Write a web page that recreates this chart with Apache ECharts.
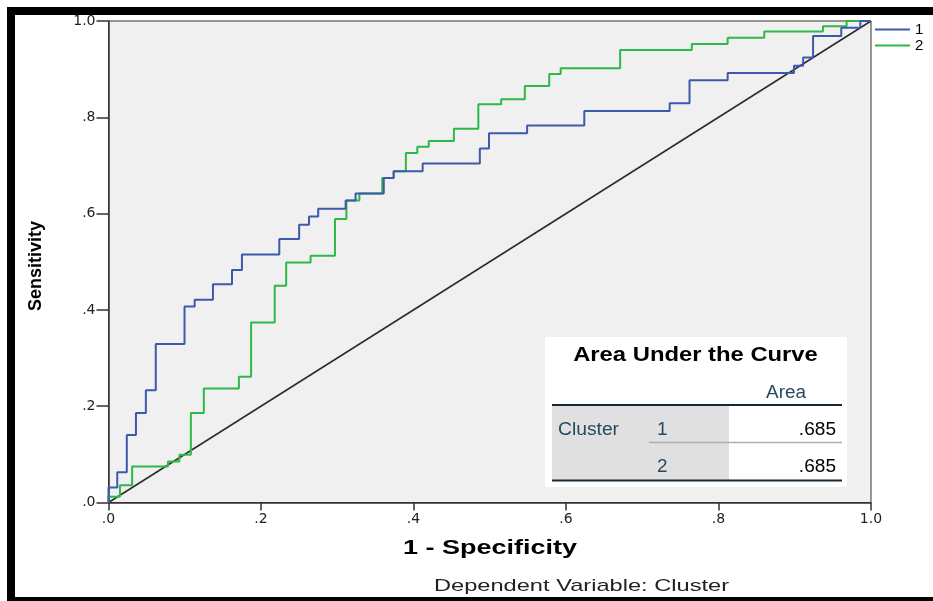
<!DOCTYPE html>
<html>
<head>
<meta charset="utf-8">
<script src="https://cdn.jsdelivr.net/npm/echarts@6/dist/echarts.min.js"></script>
<style>
html,body{margin:0;padding:0;background:#fff;}
#chart{width:933px;height:601px;}
</style>
</head>
<body>
<div id="chart"></div>
<script>
// ---- data ----
const xTickLabels = ['.0', '.2', '.4', '.6', '.8', '1.0'];
const yTickLabels = ['.0', '.2', '.4', '.6', '.8', '1.0'];
const seriesNames = ['1', '2'];

const cluster1Fpr = [0, 0, 0.0115, 0.0115, 0.024, 0.024, 0.036, 0.036, 0.049, 0.049, 0.062, 0.062, 0.0997, 0.0997, 0.113, 0.113, 0.137, 0.137, 0.162, 0.162, 0.175, 0.175, 0.224, 0.224, 0.25, 0.25, 0.263, 0.263, 0.275, 0.275, 0.311, 0.311, 0.324, 0.324, 0.361, 0.361, 0.374, 0.374, 0.412, 0.412, 0.487, 0.487, 0.499, 0.499, 0.549, 0.549, 0.624, 0.624, 0.736, 0.736, 0.762, 0.762, 0.812, 0.812, 0.899, 0.899, 0.911, 0.911, 0.924, 0.924, 0.961, 0.961, 0.986, 0.986, 1];
const cluster1Tpr = [0, 0.031, 0.031, 0.063, 0.063, 0.14, 0.14, 0.186, 0.186, 0.233, 0.233, 0.329, 0.329, 0.407, 0.407, 0.421, 0.421, 0.4535, 0.4535, 0.483, 0.483, 0.515, 0.515, 0.547, 0.547, 0.577, 0.577, 0.594, 0.594, 0.61, 0.61, 0.627, 0.627, 0.642, 0.642, 0.674, 0.674, 0.688, 0.688, 0.704, 0.704, 0.735, 0.735, 0.767, 0.767, 0.783, 0.783, 0.813, 0.813, 0.829, 0.829, 0.877, 0.877, 0.892, 0.892, 0.907, 0.907, 0.924, 0.924, 0.969, 0.969, 0.986, 0.986, 1, 1];

const cluster2Fpr = [0, 0, 0.015, 0.015, 0.031, 0.031, 0.078, 0.078, 0.093, 0.093, 0.108, 0.108, 0.125, 0.125, 0.171, 0.171, 0.187, 0.187, 0.218, 0.218, 0.233, 0.233, 0.265, 0.265, 0.297, 0.297, 0.312, 0.312, 0.329, 0.329, 0.359, 0.359, 0.374, 0.374, 0.39, 0.39, 0.405, 0.405, 0.42, 0.42, 0.453, 0.453, 0.485, 0.485, 0.515, 0.515, 0.546, 0.546, 0.578, 0.578, 0.593, 0.593, 0.671, 0.671, 0.765, 0.765, 0.812, 0.812, 0.86, 0.86, 0.937, 0.937, 0.968, 0.968, 1];
const cluster2Tpr = [0, 0.012, 0.012, 0.036, 0.036, 0.075, 0.075, 0.085, 0.085, 0.099, 0.099, 0.186, 0.186, 0.237, 0.237, 0.261, 0.261, 0.374, 0.374, 0.45, 0.45, 0.4986, 0.4986, 0.5125, 0.5125, 0.589, 0.589, 0.627, 0.627, 0.642, 0.642, 0.674, 0.674, 0.688, 0.688, 0.726, 0.726, 0.739, 0.739, 0.751, 0.751, 0.776, 0.776, 0.827, 0.827, 0.8375, 0.8375, 0.865, 0.865, 0.89, 0.89, 0.902, 0.902, 0.94, 0.94, 0.952, 0.952, 0.965, 0.965, 0.978, 0.978, 0.989, 0.989, 1, 1];

const refLineX = [0, 1];
const refLineY = [0, 1];

const aucTitle = 'Area Under the Curve';
const aucHeader = 'Area';
const aucVariable = 'Cluster';
const aucGroups = ['1', '2'];
const aucValues = ['.685', '.685'];

// ---- chart ----
const FONT = '"Liberation Sans", Arial, sans-serif';
const pairs = (xs, ys) => xs.map((x, i) => [x, ys[i]]);

function txt(x, y, text, font, fill, align, scaleX, extra) {
  return Object.assign({
    type: 'text', x: x, y: y, z: 100, scaleX: scaleX || 1, silent: true,
    style: { text: text, font: font, fill: fill, align: align, verticalAlign: 'middle',
             textAlign: align, textVerticalAlign: 'middle' }
  }, extra || {});
}
function hline(x1, x2, y, color, w) {
  return { type: 'line', z: 100, silent: true, shape: { x1: x1, y1: y, x2: x2, y2: y },
           style: { stroke: color, lineWidth: w } };
}

const chart = echarts.init(document.getElementById('chart'), null, { renderer: 'canvas' });
const option = {
  animation: false,
  backgroundColor: '#ffffff',
  grid: {
    left: 108.5, right: 62, top: 21, bottom: 98.5,
    show: true, backgroundColor: '#f0f0f0', borderColor: '#333', borderWidth: 1
  },
  legend: {
    orient: 'vertical', left: 875, top: 22, padding: 0, itemWidth: 35, itemHeight: 2, itemGap: 1,
    icon: 'rect',
    textStyle: { fontSize: 15, lineHeight: 14, color: '#000', fontFamily: FONT, padding: [0, 0, 0, 0] },
    data: seriesNames
  },
  xAxis: {
    type: 'value', min: 0, max: 1, interval: 0.2,
    axisLine: { show: true, lineStyle: { color: '#333', width: 1.5 } },
    axisTick: { show: true, length: 8, lineStyle: { color: '#333', width: 1.5 } },
    axisLabel: {
      margin: 10, fontSize: 14, color: '#222', fontFamily: '"DejaVu Sans", sans-serif',
      showMaxLabel: true, showMinLabel: true,
      formatter: v => xTickLabels[Math.round(v / 0.2)]
    },
    splitLine: { show: false }
  },
  yAxis: {
    type: 'value', min: 0, max: 1, interval: 0.2,
    axisLine: { show: true, lineStyle: { color: '#333', width: 1.5 } },
    axisTick: { show: true, length: 12, lineStyle: { color: '#333', width: 1.5 } },
    axisLabel: {
      margin: 13, fontSize: 14, color: '#222', fontFamily: '"DejaVu Sans", sans-serif',
      showMaxLabel: true, showMinLabel: true,
      formatter: v => yTickLabels[Math.round(v / 0.2)]
    },
    splitLine: { show: false }
  },
  series: [
    {
      name: 'ref', type: 'line', data: pairs(refLineX, refLineY), showSymbol: false, silent: true,
      lineStyle: { color: '#2a2a2a', width: 1.5 }, z: 1
    },
    {
      name: seriesNames[0], type: 'line', data: pairs(cluster1Fpr, cluster1Tpr), showSymbol: false,
      color: '#3e58ac', lineStyle: { color: '#3e58ac', width: 2 }, z: 3
    },
    {
      name: seriesNames[1], type: 'line', data: pairs(cluster2Fpr, cluster2Tpr), showSymbol: false,
      color: '#2eb848', lineStyle: { color: '#2eb848', width: 2 }, z: 2
    }
  ],
  graphic: [
    // black frame
    { type: 'rect', z: 100, silent: true, shape: { x: 7, y: 7, width: 926, height: 8 }, style: { fill: '#000' } },
    { type: 'rect', z: 100, silent: true, shape: { x: 7, y: 7, width: 8, height: 594 }, style: { fill: '#000' } },
    { type: 'rect', z: 100, silent: true, shape: { x: 7, y: 597, width: 926, height: 4 }, style: { fill: '#000' } },
    // axis titles
    txt(36, 266, 'Sensitivity', 'bold 18px ' + FONT, '#000', 'center', 1, { rotation: Math.PI / 2 }),
    txt(490, 548, '1 - Specificity', 'bold 20px ' + FONT, '#000', 'center', 1.35),
    txt(581.5, 586, 'Dependent Variable: Cluster', '17px ' + FONT, '#222', 'center', 1.39),
    // AUC table
    { type: 'rect', z: 99, silent: true, shape: { x: 545, y: 337, width: 302, height: 150 }, style: { fill: '#ffffff' } },
    { type: 'rect', z: 99, silent: true, shape: { x: 552, y: 405, width: 177, height: 75 }, style: { fill: '#e0e0e0' } },
    txt(695.5, 355, aucTitle, 'bold 20px ' + FONT, '#000', 'center', 1.19),
    txt(806, 393, aucHeader, '18px ' + FONT, '#264a60', 'right', 1.05),
    hline(552, 842, 405, '#152935', 2),
    txt(558, 430, aucVariable, '18px ' + FONT, '#264a60', 'left', 1.07),
    txt(657, 430, aucGroups[0], '18px ' + FONT, '#264a60', 'left', 1.05),
    txt(836, 430, aucValues[0], '18px ' + FONT, '#010205', 'right', 1.06),
    hline(649, 842, 442.5, '#aeaeae', 1.5),
    txt(657, 467, aucGroups[1], '18px ' + FONT, '#264a60', 'left', 1.05),
    txt(836, 467, aucValues[1], '18px ' + FONT, '#010205', 'right', 1.06),
    hline(552, 842, 480.5, '#152935', 2)
  ]
};
chart.setOption(option);
</script>
</body>
</html>
